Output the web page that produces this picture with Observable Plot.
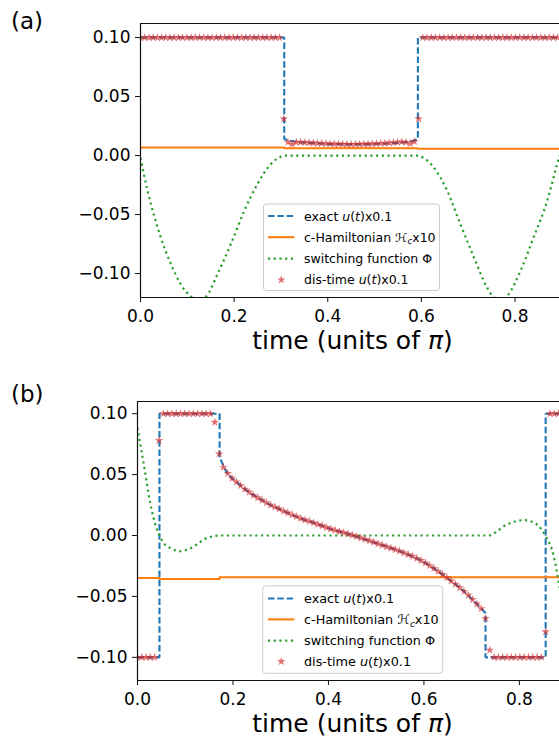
<!DOCTYPE html>
<html>
<head>
<meta charset="utf-8">
<script src="https://cdn.jsdelivr.net/npm/d3@7"></script>
<script src="https://cdn.jsdelivr.net/npm/@observablehq/plot@0.6"></script>
<style>
  html, body { margin: 0; padding: 0; background: white; }
  svg { display: block; }
</style>
</head>
<body>
<div id="pa"></div>
<div id="pb"></div>
<script>
// ---------- tick labels ----------
const xTicks = [0, 0.2, 0.4, 0.6, 0.8];
const yTicks = [-0.10, -0.05, 0.00, 0.05, 0.10];

// ---------- discrete-time sample instants (units of pi) ----------
const starTimes = [0,0.009,0.018,0.027,0.036,0.045,0.054,0.063,0.072,0.081,0.09,0.099,0.108,0.117,0.126,0.135,0.144,0.153,0.162,0.171,0.18,0.189,0.198,0.207,0.216,0.225,0.234,0.243,0.252,0.261,0.27,0.279,0.288,0.297,0.306,0.315,0.324,0.333,0.342,0.351,0.36,0.369,0.378,0.387,0.396,0.405,0.414,0.423,0.432,0.441,0.45,0.459,0.468,0.477,0.486,0.495,0.504,0.513,0.522,0.531,0.54,0.549,0.558,0.567,0.576,0.585,0.594,0.603,0.612,0.621,0.63,0.639,0.648,0.657,0.666,0.675,0.684,0.693,0.702,0.711,0.72,0.729,0.738,0.747,0.756,0.765,0.774,0.783,0.792,0.801,0.81,0.819,0.828,0.837,0.846,0.855,0.864,0.873,0.882,0.891];

// ---------- panel (a) ----------
const exactAt = [0, 0.307, 0.307, 0.32, 0.34, 0.37, 0.40, 0.45, 0.50, 0.53, 0.56, 0.58, 0.5925, 0.5925, 0.895];
const exactAu = [0.1, 0.1, 0.014, 0.0125, 0.0113, 0.0104, 0.0099, 0.0096, 0.0098, 0.0102, 0.011, 0.0122, 0.014, 0.1, 0.1];

const hamAt = [0, 0.307, 0.307, 0.5925, 0.5925, 0.895];
const hamAv = [0.0068, 0.0068, 0.0062, 0.0062, 0.0057, 0.0057];

const phiAt = [0, 0.015, 0.029, 0.043, 0.065, 0.086, 0.108, 0.1235, 0.14, 0.165, 0.193, 0.222, 0.25, 0.279, 0.30, 0.31, 0.45, 0.5915, 0.597, 0.626, 0.655, 0.683, 0.712, 0.740, 0.751, 0.768, 0.784, 0.812, 0.840, 0.869, 0.890, 0.895];
const phiAv = [-0.002, -0.0297, -0.0508, -0.069, -0.092, -0.109, -0.1195, -0.1225, -0.1195, -0.100, -0.075, -0.0466, -0.024, -0.007, -0.001, 0, 0, 0, -0.0005, -0.0099, -0.0297, -0.058, -0.086, -0.1116, -0.1186, -0.1225, -0.1186, -0.0975, -0.069, -0.038, -0.007, 0];

const starAu = [
  0.1,0.1,0.1,0.1,0.1,0.1,0.1,0.1,0.1,0.1,0.1,0.1,0.1,0.1,0.1,0.1,0.1,
  0.1,0.1,0.1,0.1,0.1,0.1,0.1,0.1,0.1,0.1,0.1,0.1,0.1,0.1,0.1,0.1,0.1,
  0.031,
  0.0113,0.0097,0.0112,0.0113,0.0111,0.0109,0.0107,0.0105,0.0103,0.0101,0.0099,0.0098,0.0097,0.0096,0.0095,0.0095,
  0.0095,0.0096,0.0097,0.0098,0.0099,0.0101,0.0103,0.0105,0.0108,0.011,0.0113,0.0116,0.0112,0.0101,0.0118,
  0.031,
  0.1,0.1,0.1,0.1,0.1,0.1,0.1,0.1,0.1,0.1,0.1,0.1,0.1,0.1,0.1,0.1,0.1,
  0.1,0.1,0.1,0.1,0.1,0.1,0.1,0.1,0.1,0.1,0.1,0.1,0.1,0.1,0.1,0.1
];

// ---------- panel (b) ----------
const exactBt = [0, 0.046, 0.046, 0.172, 0.172, 0.18, 0.1875, 0.198, 0.208, 0.222, 0.236, 0.25, 0.264, 0.28, 0.299, 0.316, 0.334, 0.35, 0.369, 0.386, 0.404, 0.42, 0.439, 0.455, 0.474, 0.49, 0.509, 0.525, 0.544, 0.56, 0.579, 0.597, 0.614, 0.632, 0.649, 0.667, 0.684, 0.698, 0.712, 0.721, 0.729, 0.729, 0.855, 0.855, 0.884];
const exactBu = [-0.1, -0.1, 0.1, 0.1, 0.0644, 0.057, 0.0515, 0.047, 0.0438, 0.039, 0.035, 0.0315, 0.0282, 0.0247, 0.0214, 0.0183, 0.0153, 0.0128, 0.0104, 0.008, 0.0054, 0.0035, 0.0016, -0.0003, -0.0028, -0.005, -0.0074, -0.0095, -0.012, -0.0145, -0.0176, -0.0211, -0.0252, -0.0298, -0.0349, -0.0402, -0.0458, -0.0512, -0.0567, -0.0603, -0.0636, -0.1, -0.1, 0.1, 0.1];

const hamBt = [0, 0.046, 0.046, 0.172, 0.172, 0.884];
const hamBv = [-0.0349, -0.0349, -0.0357, -0.0357, -0.0343, -0.0343];

const phiBt = [0, 0.0126, 0.0266, 0.0407, 0.0545, 0.07, 0.0895, 0.105, 0.1245, 0.14, 0.159, 0.172, 0.45, 0.735, 0.75, 0.767, 0.789, 0.809, 0.825, 0.837, 0.855, 0.872, 0.884];
const phiBv = [0.0885, 0.0597, 0.0268, 0.005, -0.006, -0.0105, -0.0129, -0.0115, -0.0074, -0.003, -0.0006, 0, 0, 0, 0.0025, 0.0076, 0.0113, 0.0126, 0.0115, 0.009, -0.0006, -0.017, -0.043];

const starBu = [
  -0.1,-0.1,-0.1,-0.1,-0.1,
  0.078,
  0.1,0.1,0.1,0.1,0.1,0.1,0.1,0.1,0.1,0.1,0.1,0.1,
  0.093, 0.067,
  0.056,0.051,0.047,0.044,0.041,0.038,0.0355,0.033,0.031,0.029,
  0.027,0.025,0.0233,0.0218,0.020,0.0185,0.017,0.0155,0.014,0.0128,
  0.0116,0.0104,0.0092,0.008,0.0066,0.0054,0.0043,0.0033,0.0024,0.0014,
  0.0003,-0.0008,-0.002,-0.0031,-0.0043,-0.0055,-0.0067,-0.008,-0.0092,-0.0104,
  -0.0115,-0.0128,-0.0142,-0.0156,-0.017,-0.0187,-0.0205,-0.0225,-0.0247,-0.027,
  -0.0295,-0.032,-0.0346,-0.0373,-0.040,-0.0428,-0.0458,-0.049,-0.0525,-0.0562,
  -0.060,
  -0.068, -0.094,
  -0.1,-0.1,-0.1,-0.1,-0.1,-0.1,-0.1,-0.1,-0.1,-0.1,-0.1,-0.1,
  -0.079,
  0.1,0.1,0.1
];

// ---------- helpers ----------
const zip = (ts, vs) => vs.map((v, i) => ({t: ts[i], v}));
const C = {blue: "#1f77b4", orange: "#ff7f0e", green: "#2ca02c", red: "#d62728"};
const FONT = "DejaVu Sans, sans-serif";
const DASH = "6.5,2.8", DOT = "2.2,3.5";
const yFmt = d => d3.format(".2f")(d);
const xFmt = d => d3.format(".1f")(d);
const STAR_R = 2.7, STAR_OP = 0.65;

function panel(cfg) {
  const {exact, ham, phi, stars, xMax, yDom, height, mt, mb, ml} = cfg;
  return Plot.plot({
    width: 559, height, marginTop: mt, marginBottom: mb, marginLeft: ml, marginRight: 0,
    style: {fontFamily: FONT, fontSize: "17px", color: "black", background: "white", overflow: "visible"},
    x: {domain: [0, xMax], label: null},
    y: {domain: yDom, label: null},
    marks: [
      Plot.line(exact, {x: "t", y: "v", stroke: C.blue, strokeWidth: 2.1, strokeDasharray: DASH, strokeLinecap: "butt", strokeLinejoin: "miter", clip: true}),
      Plot.line(ham, {x: "t", y: "v", stroke: C.orange, strokeWidth: 2.1, clip: true}),
      Plot.line(phi, {x: "t", y: "v", stroke: C.green, strokeWidth: 2.2, strokeDasharray: DOT, strokeLinecap: "butt", curve: "monotone-x", clip: true}),
      Plot.dot(stars, {x: "t", y: "v", symbol: "star", r: STAR_R, fill: C.red, fillOpacity: STAR_OP, stroke: "none", clip: true}),
      Plot.ruleX([0], {stroke: "#111", strokeWidth: 1.2}),
      Plot.ruleY([yDom[1]], {stroke: "#111", strokeWidth: 1.2}),
      Plot.ruleY([yDom[0]], {stroke: "#111", strokeWidth: 1.2}),
      Plot.axisY({ticks: yTicks, tickFormat: yFmt, tickSize: 5, tickPadding: 5, label: null, fontSize: 17, stroke: "#111"}),
      Plot.axisX({ticks: xTicks, tickFormat: xFmt, tickSize: 5, tickPadding: 7, label: null, fontSize: 17, stroke: "#111"})
    ]
  });
}

function richText(g, x, y, parts, fs, anchor) {
  const t = g.append("text").attr("x", x).attr("y", y)
    .attr("font-family", FONT).attr("font-size", fs).attr("fill", "black")
    .attr("text-anchor", anchor || "start");
  parts.forEach(p => {
    const s = t.append("tspan").text(p.t);
    if (p.i) s.attr("font-style", "italic");
    if (p.sub) s.attr("font-size", fs * 0.7).attr("dy", fs * 0.22);
    if (p.unsub) s.attr("dy", -fs * 0.22);
  });
  return t;
}

function addLegend(svg, box, rowY, fs) {
  const g = d3.select(svg).append("g");
  g.append("rect").attr("x", box.x).attr("y", box.y).attr("width", box.w).attr("height", box.h)
    .attr("rx", 3).attr("fill", "white").attr("fill-opacity", 0.8)
    .attr("stroke", "#cccccc").attr("stroke-width", 1);
  const x0 = 268, x1 = 294.5, tx = 304;
  const seg = (y, color, dash, w) => g.append("line").attr("x1", x0).attr("x2", x1).attr("y1", y).attr("y2", y)
    .attr("stroke", color).attr("stroke-width", w).attr("stroke-dasharray", dash || null);
  seg(rowY[0], C.blue, DASH, 2.1);
  seg(rowY[1], C.orange, null, 2.1);
  seg(rowY[2], C.green, DOT, 2.2);
  g.append("path").attr("d", d3.symbol(d3.symbolStar, Math.PI * STAR_R * STAR_R)())
    .attr("transform", `translate(${(x0 + x1) / 2},${rowY[3]})`)
    .attr("fill", C.red).attr("fill-opacity", STAR_OP);
  const off = fs * 0.36;
  richText(g, tx, rowY[0] + off, [{t: "exact "}, {t: "u", i: true}, {t: "("}, {t: "t", i: true}, {t: ")x0.1"}], fs);
  richText(g, tx, rowY[1] + off, [{t: "c-Hamiltonian "}, {t: "\u210B", i: true}, {t: "c", i: true, sub: true}, {t: "x10", unsub: true}], fs);
  richText(g, tx, rowY[2] + off, [{t: "switching function \u03A6"}], fs);
  richText(g, tx, rowY[3] + off, [{t: "dis-time "}, {t: "u", i: true}, {t: "("}, {t: "t", i: true}, {t: ")x0.1"}], fs);
}

function addLabels(svg, tag, tagY, xlabY) {
  const g = d3.select(svg).append("g");
  richText(g, 11, tagY, [{t: tag}], 23, "start");
  richText(g, 352.5, xlabY, [{t: "time (units of "}, {t: "\u03C0", i: true}, {t: ")"}], 25, "middle");
}

// ---------- panel (a) ----------
const svgA = panel({
  exact: zip(exactAt, exactAu), ham: zip(hamAt, hamAv), phi: zip(phiAt, phiAv),
  stars: zip(starTimes, starAu),
  xMax: 0.895, yDom: [-0.1203, 0.1119], height: 370, mt: 23, mb: 73, ml: 140
});
addLegend(svgA, {x: 263.5, y: 204, w: 176, h: 86.5}, [216, 237.2, 258.6, 279.8], 12.5);
addLabels(svgA, "(a)", 29, 349);
document.getElementById("pa").appendChild(svgA);

// ---------- panel (b) ----------
const svgB = panel({
  exact: zip(exactBt, exactBu), ham: zip(hamBt, hamBv), phi: zip(phiBt, phiBv),
  stars: zip(starTimes, starBu),
  xMax: 0.884, yDom: [-0.119, 0.110], height: 369, mt: 31, mb: 59, ml: 137
});
addLegend(svgB, {x: 262.7, y: 215.8, w: 180, h: 87.5}, [228.5, 249.4, 270.6, 291.5], 12.8);
addLabels(svgB, "(b)", 31.5, 362);
document.getElementById("pb").appendChild(svgB);
</script>
</body>
</html>
